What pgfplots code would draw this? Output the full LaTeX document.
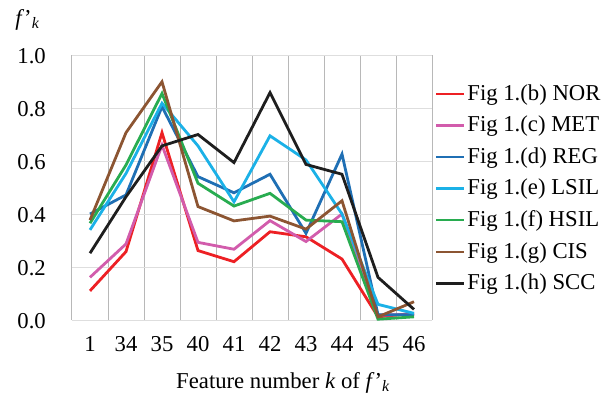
\documentclass[border=0pt]{standalone}
\usepackage{fontspec}
\setmainfont{Liberation Serif}
\usepackage{pgfplots}
\pgfplotsset{compat=1.18}
\definecolor{cNOR}{RGB}{237,32,36}
\definecolor{cMET}{RGB}{210,92,172}
\definecolor{cREG}{RGB}{31,111,180}
\definecolor{cLSIL}{RGB}{27,177,231}
\definecolor{cHSIL}{RGB}{40,172,80}
\definecolor{cCIS}{RGB}{140,85,50}
\definecolor{cSCC}{RGB}{30,30,30}
\newcommand{\bigf}{\fontsize{22.7}{27}\selectfont}
\begin{document}
\bigf
\begin{tikzpicture}
\useasboundingbox (-72pt,-77pt) rectangle (537pt,320pt);
\begin{axis}[
  at={(0,0)}, anchor=south west,
  scale only axis, width=360pt, height=265pt,
  clip mode=individual,
  xmin=-0.5, xmax=9.5, ymin=0, ymax=1,
  xtick={0,1,2,3,4,5,6,7,8,9},
  xticklabels={1,34,35,40,41,42,43,44,45,46},
  minor xtick={-0.5,0.5,1.5,2.5,3.5,4.5,5.5,6.5,7.5,8.5,9.5},
  xminorgrids, minor x grid style={draw=black!28, line width=1pt},
  major tick length=0pt, minor tick length=0pt,
  ytick={0,0.2,0.4,0.6,0.8,1},
  ymajorgrids, y grid style={draw=black!13, line width=1pt},
  axis line style={draw=none},
  /pgf/number format/assume math mode=true,
  yticklabel style={/pgf/number format/.cd, fixed, fixed zerofill, precision=1,
    /tikz/.cd, anchor=east, inner sep=0pt, xshift=-26pt, yshift=-1pt},
  xticklabel style={anchor=base, inner sep=0pt, yshift=-31pt},
  tick label style={font=\bigf},
  xlabel={Feature number \textit{k} of \textit{f}’\textsubscript{\textit{k}}},
  xlabel style={font=\bigf, at={(rel axis cs:0.289,0)}, anchor=base west, inner sep=0pt, yshift=-68pt},
  legend style={draw=none, fill=none, at={(1.0,0.4955)}, anchor=west,
    font=\bigf, legend cell align=left, row sep=8.4pt},
  legend image code/.code={\draw[#1, line width=2.2pt] (0pt,0pt) -- (28pt,0pt);},
  every axis plot/.append style={line width=2.8pt, line join=miter},
]
\addplot[cNOR] coordinates {(0,0.110) (1,0.258) (2,0.707) (3,0.262) (4,0.220) (5,0.333) (6,0.314) (7,0.230) (8,0.012) (9,0.025)};
\addlegendentry{Fig 1.(b) NOR}
\addplot[cMET] coordinates {(0,0.161) (1,0.287) (2,0.660) (3,0.293) (4,0.267) (5,0.375) (6,0.296) (7,0.400) (8,0.019) (9,0.020)};
\addlegendentry{Fig 1.(c) MET}
\addplot[cREG] coordinates {(0,0.400) (1,0.472) (2,0.805) (3,0.541) (4,0.480) (5,0.550) (6,0.327) (7,0.626) (8,0.020) (9,0.020)};
\addlegendentry{Fig 1.(d) REG}
\addplot[cLSIL] coordinates {(0,0.340) (1,0.553) (2,0.818) (3,0.657) (4,0.446) (5,0.695) (6,0.604) (7,0.400) (8,0.059) (9,0.025)};
\addlegendentry{Fig 1.(e) LSIL}
\addplot[cHSIL] coordinates {(0,0.365) (1,0.585) (2,0.855) (3,0.516) (4,0.430) (5,0.478) (6,0.377) (7,0.371) (8,0.003) (9,0.012)};
\addlegendentry{Fig 1.(f) HSIL}
\addplot[cCIS] coordinates {(0,0.377) (1,0.707) (2,0.899) (3,0.428) (4,0.374) (5,0.392) (6,0.343) (7,0.450) (8,0.012) (9,0.069)};
\addlegendentry{Fig 1.(g) CIS}
\addplot[cSCC] coordinates {(0,0.252) (1,0.465) (2,0.657) (3,0.700) (4,0.594) (5,0.858) (6,0.587) (7,0.550) (8,0.161) (9,0.040)};
\addlegendentry{Fig 1.(h) SCC}
\node[font=\bigf, anchor=base west, inner sep=0pt] at (rel axis cs:-0.158,1.113) {\textit{f}’\textsubscript{\textit{k}}};
\end{axis}
\end{tikzpicture}
\end{document}
